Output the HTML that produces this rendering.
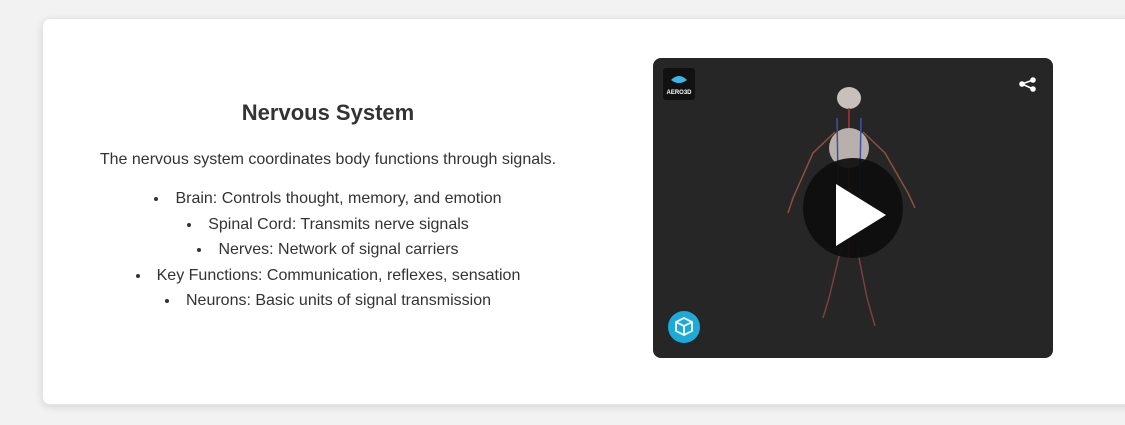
<!DOCTYPE html>
<html><head><meta charset="utf-8"><style>
html,body{margin:0;padding:0;width:1125px;height:425px;overflow:hidden;background:#f2f2f2;font-family:"Liberation Sans",Arial,sans-serif;color:#333}
.card{position:absolute;left:42px;top:18px;width:1110px;height:387px;background:#fff;border-radius:8px;box-shadow:0 2px 8px rgba(0,0,0,0.12);border:1px solid #e6e6e6;box-sizing:border-box}
.txt{position:absolute;left:78px;width:500px;top:97px;text-align:center}
h2{margin:0;font-size:22px;font-weight:bold;color:#333;line-height:32px}
p{margin:20px 0 0;font-size:16px;line-height:22px}
ul{margin:15px 0 0;padding:0;list-style:disc inside;font-size:16px;line-height:25.6px}
.vid{position:absolute;left:653px;top:58px;width:400px;height:300px;background:#262626;border-radius:8px;overflow:hidden}
</style></head><body>
<div class="card"></div>
<div class="txt">
<h2>Nervous System</h2>
<p>The nervous system coordinates body functions through signals.</p>
<ul>
<li>Brain: Controls thought, memory, and emotion</li>
<li>Spinal Cord: Transmits nerve signals</li>
<li>Nerves: Network of signal carriers</li>
<li>Key Functions: Communication, reflexes, sensation</li>
<li>Neurons: Basic units of signal transmission</li>
</ul>
</div>
<div class="vid">
<svg width="400" height="300" viewBox="0 0 400 300">
<rect x="10" y="10" width="32" height="32" rx="3" fill="#111"/>
<path d="M18 22 q8 -8 16 0 q-8 6 -16 0z" fill="#3cb6e6"/>
<text x="26" y="36" font-size="6" fill="#fff" text-anchor="middle" font-family="Liberation Sans" font-weight="bold">AERO3D</text>
<g stroke="#fff" stroke-width="1.6" fill="#fff"><circle cx="380" cy="22" r="2"/><circle cx="369" cy="26" r="2"/><circle cx="380" cy="31" r="2"/><path d="M380 22 L369 26 L380 31" fill="none"/></g>
<g fill="none" stroke-width="1.5">
<ellipse cx="196" cy="40" rx="12" ry="11" fill="#c8c0bc" stroke="none"/>
<path d="M196 50 L196 200" stroke="#b03030"/>
<ellipse cx="196" cy="90" rx="20" ry="20" fill="#b8b0ac" stroke="none"/>
<path d="M182 74 L160 95 L140 140 L135 155" stroke="#8a5040"/>
<path d="M210 74 L232 95 L255 135 L262 150" stroke="#8a5040"/>
<path d="M188 190 L176 240 L170 260" stroke="#7a4040"/>
<path d="M204 190 L214 240 L222 268" stroke="#7a4040"/>
<path d="M184 60 L186 180" stroke="#4050a0"/>
<path d="M208 60 L206 180" stroke="#4050a0"/>
</g>
<circle cx="200" cy="150" r="50" fill="#0e0e0e" opacity="0.93"/>
<path d="M183 126 L233 157 L183 188 Z" fill="#fff"/>
<circle cx="31" cy="269" r="16" fill="#1caad9"/>
<path d="M31 260 l8 4 v9 l-8 4 l-8 -4 v-9z M23 264 l8 4 l8 -4 M31 268 v9" fill="none" stroke="#fff" stroke-width="1.8"/>
</svg>
</div>
</body></html>
